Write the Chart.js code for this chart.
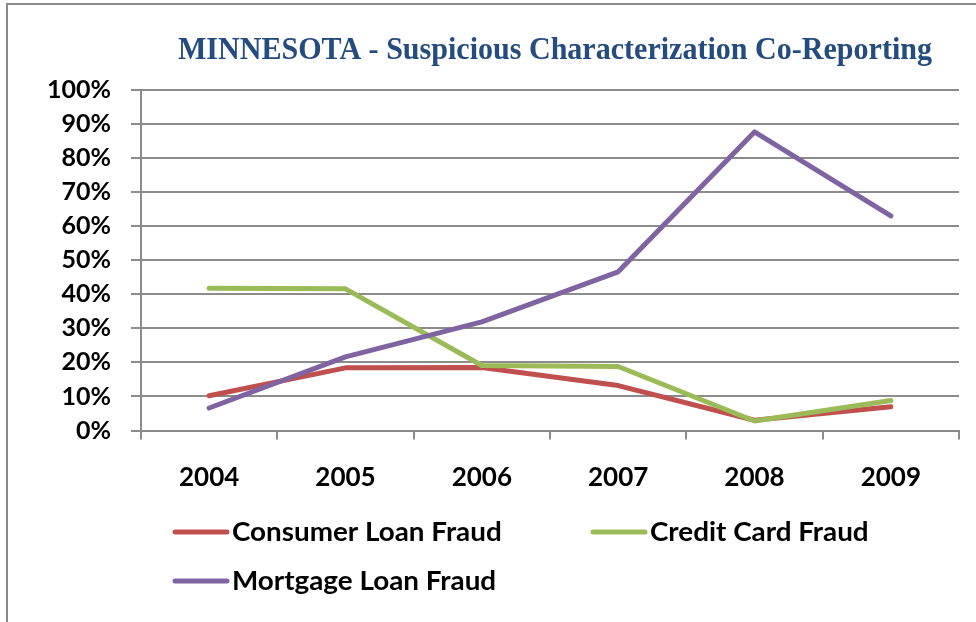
<!DOCTYPE html>
<html>
<head>
<meta charset="utf-8">
<script src="https://cdn.jsdelivr.net/npm/chart.js@4/dist/chart.umd.min.js"></script>
<style>
  html, body { margin: 0; padding: 0; background: #ffffff; }
  #wrap { position: relative; width: 976px; height: 622px; }
</style>
</head>
<body>
<div id="wrap"><canvas id="c" width="976" height="622"></canvas></div>
<script>
// ---- data (percent values) ----
const years = ['2004', '2005', '2006', '2007', '2008', '2009'];
const consumerLoanFraud = [10.2, 18.4, 18.5, 13.2, 3.0, 7.0];
const creditCardFraud = [41.8, 41.6, 19.1, 18.8, 2.8, 8.8];
const mortgageLoanFraud = [6.6, 21.6, 31.9, 46.6, 87.7, 63.0];
const yTickValues = [0, 10, 20, 30, 40, 50, 60, 70, 80, 90, 100];
const seriesLabels = ['Consumer Loan Fraud', 'Credit Card Fraud', 'Mortgage Loan Fraud'];
const titleText = 'MINNESOTA - Suspicious Characterization Co-Reporting';

const COLORS = ['#C0504D', '#9BBB59', '#8064A2'];
const GRID = '#8c8c8c';
const SANS = 'Lato, "Open Sans", "DejaVu Sans", sans-serif';

const frameAndTitle = {
  id: 'frameAndTitle',
  beforeDraw(chart) {
    const ctx = chart.ctx;
    ctx.save();
    ctx.fillStyle = '#ffffff';
    ctx.fillRect(0, 0, chart.width, chart.height);
    ctx.strokeStyle = '#8a8a8a';
    ctx.lineWidth = 2;
    ctx.beginPath();
    ctx.moveTo(7, chart.height);
    ctx.lineTo(7, 4);
    ctx.lineTo(chart.width, 4);
    ctx.stroke();
    // title
    ctx.font = 'bold 31px "Liberation Serif", "Times New Roman", serif';
    ctx.fillStyle = '#244C7F';
    ctx.textBaseline = 'alphabetic';
    ctx.textAlign = 'left';
    const w = ctx.measureText(titleText).width;
    const sx = 754 / w;
    ctx.translate(178, 59);
    ctx.scale(sx, 1);
    ctx.fillText(titleText, 0, 0);
    ctx.restore();
  }
};

const customLegend = {
  id: 'customLegend',
  afterDraw(chart) {
    const ctx = chart.ctx;
    const spots = [
      { x: 175, y: 532 },
      { x: 593, y: 532 },
      { x: 175, y: 581 }
    ];
    chart.data.datasets.forEach((ds, i) => {
      const p = spots[i];
      ctx.save();
      ctx.strokeStyle = ds.borderColor;
      ctx.lineWidth = 5;
      ctx.lineCap = 'round';
      ctx.beginPath();
      ctx.moveTo(p.x, p.y);
      ctx.lineTo(p.x + 52, p.y);
      ctx.stroke();
      ctx.fillStyle = '#000000';
      ctx.font = 'bold 26px ' + SANS;
      ctx.textBaseline = 'middle';
      ctx.textAlign = 'left';
      ctx.translate(p.x + 57, p.y + 1);
      ctx.scale(1.07, 1);
      ctx.fillText(ds.label, 0, 0);
      ctx.restore();
    });
  }
};

const chart = new Chart(document.getElementById('c'), {
  type: 'line',
  data: {
    labels: years,
    datasets: [
      { label: seriesLabels[0], data: consumerLoanFraud, borderColor: COLORS[0], order: 2 },
      { label: seriesLabels[1], data: creditCardFraud, borderColor: COLORS[1], order: 1 },
      { label: seriesLabels[2], data: mortgageLoanFraud, borderColor: COLORS[2], order: 0 }
    ].map(d => Object.assign(d, {
      borderWidth: 5, pointRadius: 0, tension: 0, fill: false,
      borderCapStyle: 'round', borderJoinStyle: 'round', backgroundColor: d.borderColor
    }))
  },
  options: {
    responsive: false,
    animation: false,
    devicePixelRatio: 1,
    layout: { padding: { top: 90, right: 17, left: 0, bottom: 0 } },
    plugins: { legend: { display: false }, title: { display: false }, tooltip: { enabled: false } },
    scales: {
      x: {
        type: 'category',
        offset: true,
        afterFit(scale) { scale.height = 191.5; },
        grid: { drawOnChartArea: false, drawTicks: true, tickLength: 9, offset: true, color: GRID, lineWidth: 2 },
        border: { display: true, color: GRID, width: 2 },
        ticks: { color: '#000', font: { family: SANS, size: 26, weight: 'bold' }, padding: 23, maxRotation: 0 }
      },
      y: {
        min: 0, max: 100,
        afterFit(scale) { scale.width = 141; },
        afterBuildTicks(scale) { scale.ticks = yTickValues.map(v => ({ value: v })); },
        grid: { color: GRID, lineWidth: 2, tickLength: 10, drawTicks: true },
        border: { display: true, color: GRID, width: 2 },
        ticks: {
          color: '#000', font: { family: SANS, size: 25, weight: 'bold' }, padding: 20,
          callback: v => v + '%'
        }
      }
    }
  },
  plugins: [frameAndTitle, customLegend]
});
</script>
</body>
</html>
